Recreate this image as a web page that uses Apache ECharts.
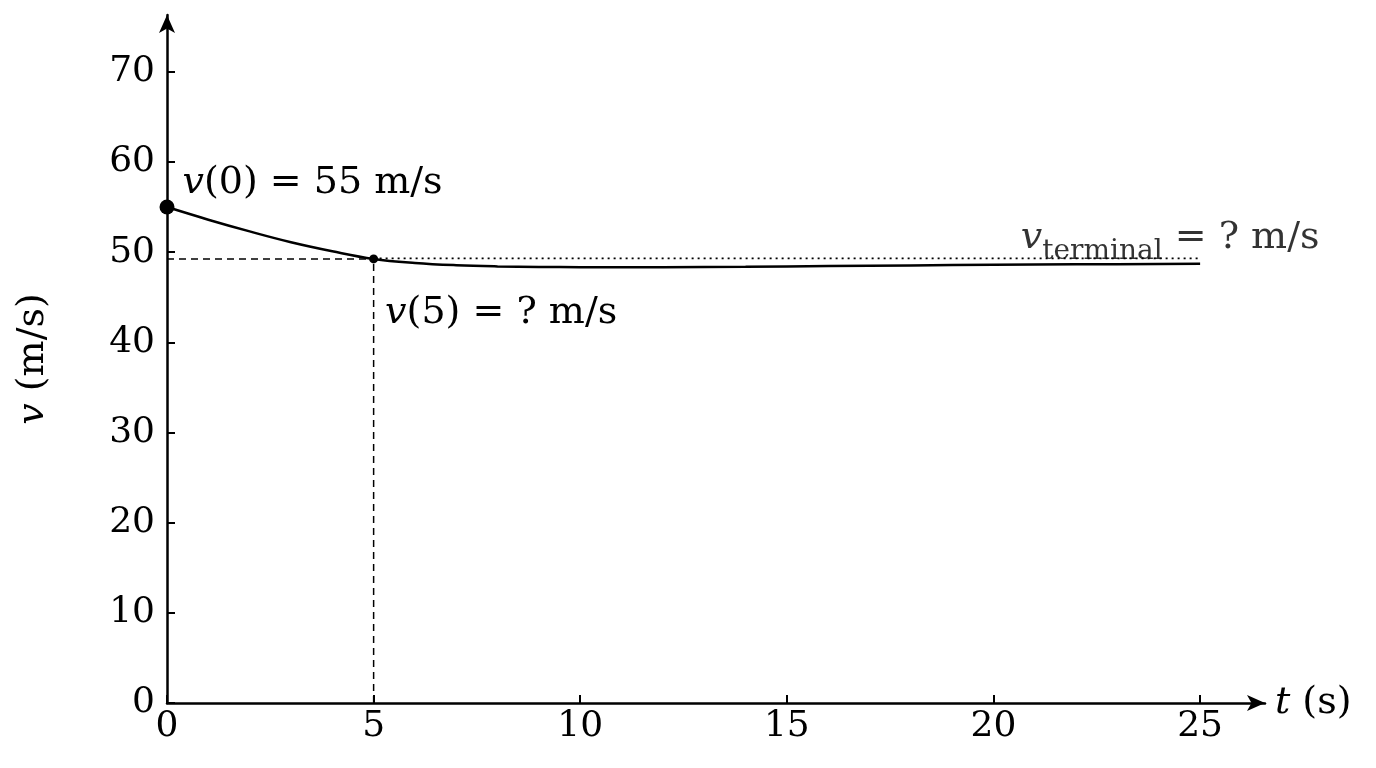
<!DOCTYPE html>
<html><head><meta charset="utf-8">
<script src="https://cdn.jsdelivr.net/npm/echarts@6/dist/echarts.min.js"></script>
<style>html,body{margin:0;background:#fff}#c{width:1376px;height:768px}</style>
</head><body><div id="c"></div>
<script>
const tVals = [0,1,2,3,4,5,6,7,8,9,10,11,12,14,16,18,20,22,25];
const vVals = [55,53.6,52.3,51.1,50.1,49.25,48.8,48.55,48.42,48.36,48.33,48.32,48.33,48.38,48.45,48.53,48.6,48.65,48.7];
const vTerminalLine = 49.3;
const v5 = 49.25;
const xTicks = [0,5,10,15,20,25];
const yTicks = [0,10,20,30,40,50,60,70];
const F = 'DejaVu Serif';
const chart = echarts.init(document.getElementById('c'));
const rich = {i:{fontFamily:F,fontStyle:'italic',fontSize:38,color:'#000'},n:{fontFamily:F,fontSize:38,color:'#000'},s:{fontFamily:F,fontSize:28,color:'#000',verticalAlign:'bottom',padding:[26,0,0,0]}};
chart.setOption({
  animation:false,
  grid:{left:167,right:111,top:15,bottom:65,containLabel:false},
  xAxis:{type:'value',min:0,max:26.57,interval:5,
    axisLine:{lineStyle:{color:'#000',width:2.5},symbol:['none','arrow'],symbolSize:[12,18]},
    axisTick:{show:true,length:-8,lineStyle:{color:'#000',width:2}},
    axisLabel:{showMaxLabel:false,color:'#000',fontFamily:F,fontSize:36,margin:6},
    splitLine:{show:false},
    name:'{i|t}{n|\u00a0(s)}',nameLocation:'end',nameGap:10,nameTextStyle:{color:'#000',rich:rich}},
  yAxis:{type:'value',min:0,max:76.3,interval:10,
    axisLine:{lineStyle:{color:'#000',width:2.5},symbol:['none','arrow'],symbolSize:[12,18]},
    axisTick:{show:true,length:-8,lineStyle:{color:'#000',width:2}},
    axisLabel:{showMaxLabel:false,color:'#000',fontFamily:F,fontSize:36,margin:12},
    splitLine:{show:false},
    name:'{i|v}{n|\u00a0(m/s)}',nameLocation:'middle',nameGap:115,nameRotate:90,nameTextStyle:{color:'#000',rich:rich}},
  series:[
    {type:'line',data:tVals.map((t,i)=>[t,vVals[i]]),smooth:0.4,symbol:'none',lineStyle:{color:'#000',width:2.5}},
    {type:'line',data:[[5,vTerminalLine],[25,vTerminalLine]],symbol:'none',lineStyle:{color:'#000',width:1.8,type:[2,4]}},
    {type:'line',data:[[0,v5],[5,v5]],symbol:'none',lineStyle:{color:'#000',width:1.5,type:[7,5]}},
    {type:'line',data:[[5,0],[5,v5]],symbol:'none',lineStyle:{color:'#000',width:1.5,type:[7,5]}},
    {type:'scatter',data:[[0,vVals[0]]],symbolSize:15,itemStyle:{color:'#000',opacity:1},
      label:{show:true,color:'#000',position:'right',offset:[0,-24],distance:8,formatter:'{i|v}{n|(0) = 55 m/s}',rich:rich}},
    {type:'scatter',data:[[5,v5]],symbolSize:9,itemStyle:{color:'#000',opacity:1},
      label:{show:true,color:'#000',position:'right',offset:[2,54],formatter:'{i|v}{n|(5) = ? m/s}',rich:rich}},
    {type:'scatter',data:[[25,vTerminalLine]],symbolSize:0,
      label:{show:true,color:'#000',position:'insideTop',offset:[-30,-52],formatter:'{i|v}{s|terminal}{n| = ? m/s}',rich:rich}}
  ]
});
</script></body></html>
